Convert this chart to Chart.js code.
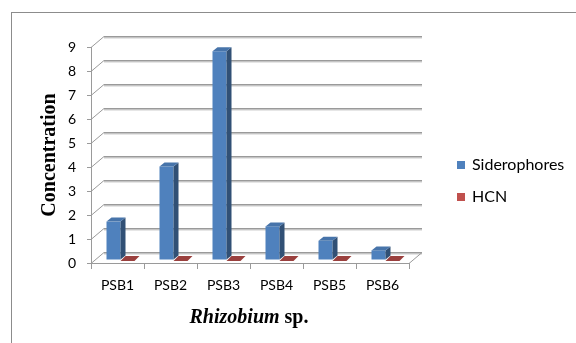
<!DOCTYPE html>
<html>
<head>
<meta charset="utf-8">
<script src="https://cdn.jsdelivr.net/npm/chart.js@4/dist/chart.umd.min.js"></script>
<style>
  html, body { margin: 0; padding: 0; background: #ffffff; }
  canvas { display: block; }
</style>
</head>
<body>
<canvas id="chart" width="576" height="343"></canvas>
<script>
// Strains on the x axis
const categories = ['PSB1', 'PSB2', 'PSB3', 'PSB4', 'PSB5', 'PSB6'];
// Measured concentrations per strain
const siderophores = [1.6, 3.9, 8.7, 1.4, 0.8, 0.4];
const hcn = [0, 0, 0, 0, 0, 0];
// Value axis range
const yMin = 0;
const yMax = 9;
const yStep = 1;

const FRONT = '#4f81bd';
const RED = '#c0504d';
const GRID = '#9a9a9a';

// Offsets giving the pseudo-3D look: back wall, bar plane, bar depth
const WALL = { dx: 13, dy: 11 };
const PLANE = { dx: 3, dy: 3 };
const DEPTH = { dx: 5, dy: 4 };

function shade(hex, f) {
  const n = parseInt(hex.slice(1), 16);
  let r = (n >> 16) & 255, g = (n >> 8) & 255, b = n & 255;
  r = Math.round(r * f); g = Math.round(g * f); b = Math.round(b * f);
  return 'rgb(' + Math.min(255, r) + ',' + Math.min(255, g) + ',' + Math.min(255, b) + ')';
}

function line(ctx, pts, color, w) {
  ctx.beginPath();
  ctx.moveTo(pts[0][0], pts[0][1]);
  for (let i = 1; i < pts.length; i++) ctx.lineTo(pts[i][0], pts[i][1]);
  ctx.strokeStyle = color;
  ctx.lineWidth = w;
  ctx.stroke();
}

function poly(ctx, pts, color) {
  ctx.beginPath();
  ctx.moveTo(pts[0][0], pts[0][1]);
  for (let i = 1; i < pts.length; i++) ctx.lineTo(pts[i][0], pts[i][1]);
  ctx.closePath();
  ctx.fillStyle = color;
  ctx.fill();
}

const excel3d = {
  id: 'excel3d',
  beforeDraw(chart) {
    const ctx = chart.ctx;
    ctx.save();
    ctx.fillStyle = '#ffffff';
    ctx.fillRect(0, 0, chart.width, chart.height);
    // frame around the figure
    ctx.strokeStyle = '#8c8c8c';
    ctx.lineWidth = 1;
    ctx.strokeRect(11.5, 12.5, 700, 500);
    ctx.restore();
  },
  beforeDatasetsDraw(chart) {
    const ctx = chart.ctx;
    const a = chart.chartArea;
    const y = chart.scales.y;
    ctx.save();
    // back wall gridlines with the side-wall diagonals
    for (let v = yMin; v <= yMax; v += yStep) {
      const yf = Math.round(y.getPixelForValue(v)) + 0.5;
      const yb = yf - WALL.dy;
      line(ctx, [[a.left, yf], [a.left + WALL.dx, yb], [a.right + WALL.dx, yb]], GRID, 1);
      line(ctx, [[a.left + WALL.dx, yb + 1], [a.right + WALL.dx, yb + 1]], '#c4c4c4', 1);
      line(ctx, [[a.left + WALL.dx, yb + 2], [a.right + WALL.dx, yb + 2]], '#e6e6e6', 1);
    }
    // right edge of the floor
    const yb0 = Math.round(a.bottom) + 0.5;
    line(ctx, [[a.right, yb0], [a.right + WALL.dx, yb0 - WALL.dy]], GRID, 1);
    ctx.restore();
  },
  beforeDatasetDraw(chart) {
    chart.ctx.save();
    chart.ctx.translate(PLANE.dx, -PLANE.dy);
  },
  afterDatasetDraw(chart) {
    chart.ctx.restore();
  },
  afterDatasetsDraw(chart) {
    const ctx = chart.ctx;
    ctx.save();
    ctx.translate(PLANE.dx, -PLANE.dy);
    chart.data.datasets.forEach((ds, di) => {
      const meta = chart.getDatasetMeta(di);
      const base = ds.backgroundColor;
      meta.data.forEach((bar) => {
        const p = bar.getProps(['x', 'y', 'base', 'width'], true);
        const l = p.x - p.width / 2, r = p.x + p.width / 2;
        const top = Math.min(p.y, p.base), bot = p.base;
        // side face
        if (bot - top > 0.5) {
          poly(ctx, [[r, top], [r + DEPTH.dx, top - DEPTH.dy], [r + DEPTH.dx, bot - DEPTH.dy], [r, bot]], shade(base, 0.62));
        }
        // top face
        poly(ctx, [[l, top + (bot - top > 0.5 ? 0 : 1)], [r, top + (bot - top > 0.5 ? 0 : 1)], [r + DEPTH.dx, top - DEPTH.dy], [l + DEPTH.dx, top - DEPTH.dy]],
          bot - top > 0.5 ? shade(base, 0.9) : shade(base, 0.8));
      });
    });
    ctx.restore();
  },
  afterDraw(chart) {
    const ctx = chart.ctx;
    const a = chart.chartArea;
    ctx.save();
    // value axis title
    ctx.translate(50, 155);
    ctx.rotate(-Math.PI / 2);
    ctx.fillStyle = '#000';
    ctx.font = 'bold 20px "Liberation Serif", "Times New Roman", serif';
    ctx.textAlign = 'center';
    ctx.textBaseline = 'middle';
    ctx.fillText('Concentration', 0, 0);
    ctx.restore();

    // category axis title: italic genus name followed by "sp."
    ctx.save();
    ctx.fillStyle = '#000';
    ctx.textBaseline = 'alphabetic';
    const f1 = 'italic bold 20px "Liberation Serif", "Times New Roman", serif';
    const f2 = 'bold 20px "Liberation Serif", "Times New Roman", serif';
    const t1 = 'Rhizobium', t2 = ' sp.';
    ctx.font = f1; const w1 = ctx.measureText(t1).width;
    ctx.font = f2; const w2 = ctx.measureText(t2).width;
    const cx = 249;
    let x0 = cx - (w1 + w2) / 2;
    ctx.textAlign = 'left';
    ctx.font = f1; ctx.fillText(t1, x0, 323);
    ctx.font = f2; ctx.fillText(t2, x0 + w1, 323);
    ctx.restore();

    // legend
    ctx.save();
    ctx.font = '16px Lato, sans-serif';
    ctx.textBaseline = 'middle';
    ctx.textAlign = 'left';
    chart.data.datasets.forEach((ds, i) => {
      const yy = 165 + i * 32;
      ctx.fillStyle = ds.backgroundColor;
      ctx.fillRect(457, yy - 4, 8, 8);
      ctx.fillStyle = '#000';
      ctx.fillText(ds.label, 472, yy);
    });
    ctx.restore();
  }
};

new Chart(document.getElementById('chart'), {
  type: 'bar',
  data: {
    labels: categories,
    datasets: [
      { label: 'Siderophores', data: siderophores, backgroundColor: FRONT, categoryPercentage: 28 / 53, barPercentage: 1, clip: false },
      { label: 'HCN', data: hcn, backgroundColor: RED, categoryPercentage: 28 / 53, barPercentage: 1, clip: false }
    ]
  },
  options: {
    responsive: false,
    animation: false,
    devicePixelRatio: 1,
    layout: { padding: { left: 0, right: 167, top: 47, bottom: 0 } },
    plugins: { legend: { display: false }, tooltip: { enabled: false } },
    scales: {
      x: {
        offset: true,
        grid: { offset: true, drawOnChartArea: false, drawTicks: true, tickLength: 6, color: GRID },
        border: { display: true, color: GRID },
        ticks: { color: '#000', font: { family: 'Lato', size: 14 }, padding: 8, maxRotation: 0 },
        afterFit(s) { s.height = 80; }
      },
      y: {
        min: yMin,
        max: yMax,
        grid: { drawOnChartArea: false, drawTicks: true, tickLength: 4, color: GRID },
        border: { display: true, color: GRID },
        ticks: { stepSize: yStep, color: '#000', font: { family: 'Lato', size: 14 }, padding: 11 },
        afterFit(s) { s.width = 91; }
      }
    }
  },
  plugins: [excel3d]
});
</script>
</body>
</html>
